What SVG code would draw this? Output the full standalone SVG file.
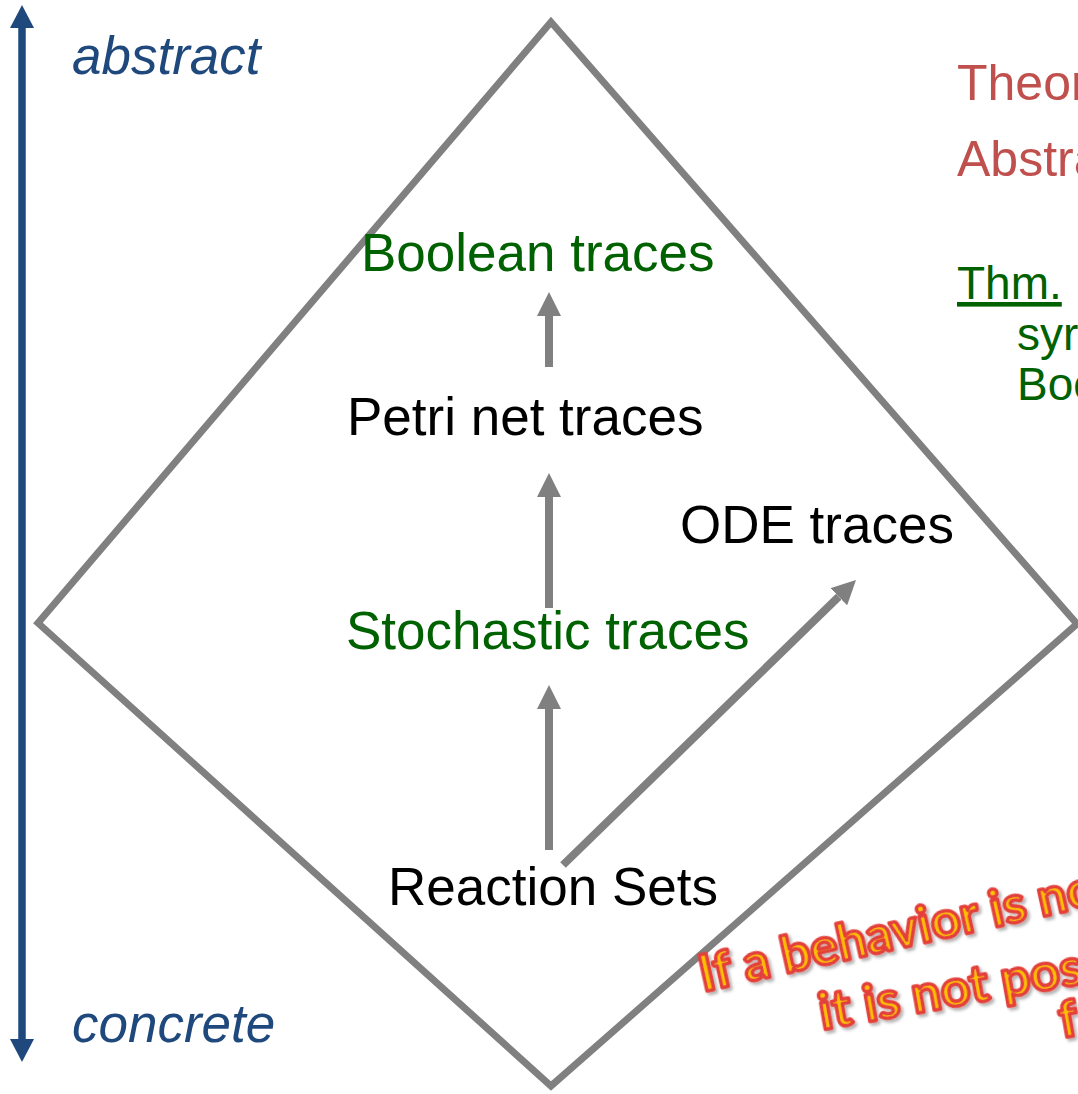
<svg xmlns="http://www.w3.org/2000/svg" width="1078" height="1094" viewBox="0 0 1078 1094">
  <style>
    .lbl { font-family: "Liberation Sans", Arial, sans-serif; font-size: 53px; }
    .green { fill: #006100; }
    .black { fill: #000000; }
    .axis { font-family: "Liberation Sans", Arial, sans-serif; font-size: 53px; font-style: italic; fill: #1F497D; }
    .red { font-family: "Liberation Sans", Arial, sans-serif; font-size: 50px; fill: #C0504D; }
    .side { font-family: "Liberation Sans", Arial, sans-serif; font-size: 46px; fill: #006100; }
    .conn { stroke: #808080; stroke-width: 8; fill: none; marker-end: url(#gray); }
    .wa { font-family: Lato, "Open Sans", sans-serif; font-weight: bold; font-size: 52px; fill: #FFC000; stroke: #E3413B; stroke-width: 3.5; stroke-linejoin: round; filter: url(#shadow); }
  </style>
  <defs>
    <marker id="gray" markerUnits="userSpaceOnUse" markerWidth="24" markerHeight="24" refX="0" refY="12" orient="auto">
      <path d="M0,0 L24,12 L0,24 Z" fill="#808080"/>
    </marker>
    <marker id="blue" markerUnits="userSpaceOnUse" markerWidth="23" markerHeight="24" refX="0" refY="12" orient="auto-start-reverse">
      <path d="M0,0 L23,12 L0,24 Z" fill="#1F497D"/>
    </marker>
    <filter id="shadow" x="-10%" y="-30%" width="120%" height="160%">
      <feDropShadow dx="2" dy="3" stdDeviation="1.5" flood-color="#000000" flood-opacity="0.3"/>
    </filter>
  </defs>
  <rect width="1078" height="1094" fill="#FFFFFF"/>

  <g id="axis">
    <line x1="22" y1="28" x2="22" y2="1039" stroke="#1F497D" stroke-width="7.5" marker-start="url(#blue)" marker-end="url(#blue)"/>
    <text class="axis" x="72" y="74">abstract</text>
    <text class="axis" x="72" y="1042">concrete</text>
  </g>

  <g id="diamond">
    <polygon points="551,22 38,623 551,1086 1077,624" fill="none" stroke="#808080" stroke-width="7" stroke-linejoin="miter"/>
  </g>

  <g id="connectors">
    <line class="conn" x1="549" y1="850" x2="549" y2="709"/>
    <line class="conn" x1="549" y1="608" x2="549" y2="497"/>
    <line class="conn" x1="549" y1="367" x2="549" y2="316"/>
    <line class="conn" x1="563" y1="865" x2="838.8" y2="596.7"/>
  </g>

  <g id="node-boolean">
    <text class="lbl green" x="361" y="271">Boolean traces</text>
  </g>
  <g id="node-petri">
    <text class="lbl black" x="347" y="435">Petri net traces</text>
  </g>
  <g id="node-ode">
    <text class="lbl black" x="680" y="543">ODE traces</text>
  </g>
  <g id="node-stochastic">
    <text class="lbl green" x="346" y="649">Stochastic traces</text>
  </g>
  <g id="node-reaction">
    <text class="lbl black" x="388" y="905">Reaction Sets</text>
  </g>

  <g id="side-text">
    <text class="red" x="957" y="100">Theor</text>
    <text class="red" x="957" y="176">Abstra</text>
    <text class="side" x="957" y="299" text-decoration="underline">Thm.</text>
    <text class="side" x="1017" y="350">syr</text>
    <text class="side" x="1017" y="400">Boo</text>
  </g>

  <g id="wordart">
    <text class="wa" transform="translate(703,992) rotate(-12.5)">If a behavior is no</text>
    <text class="wa" transform="translate(822,1030) rotate(-10)">it is not poss</text>
    <text class="wa" transform="translate(1062,1038) rotate(-10)">f</text>
  </g>
</svg>
